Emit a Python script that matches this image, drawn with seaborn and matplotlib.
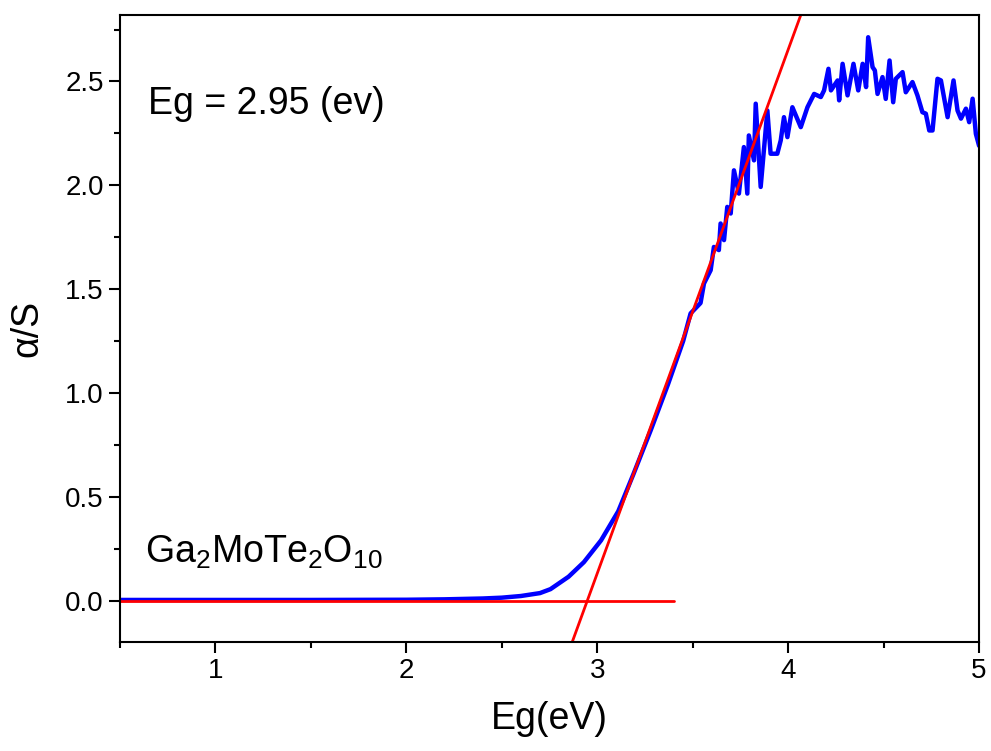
import matplotlib
matplotlib.use("Agg")
import matplotlib.pyplot as plt
from matplotlib.ticker import MultipleLocator
import pandas as pd
import seaborn as sns

# absorption curve
eg = [0.5, 1.0, 1.5, 2.0, 2.2, 2.4, 2.5, 2.6, 2.7, 2.755, 2.85, 2.93, 3.02, 3.11, 3.19, 3.28, 3.37, 3.45,
      3.489, 3.541, 3.559, 3.594, 3.611, 3.637, 3.646, 3.664, 3.681, 3.699, 3.716, 3.742, 3.768, 3.786,
      3.794, 3.821, 3.83, 3.856, 3.891, 3.908, 3.943, 3.961, 3.978, 3.996, 4.022, 4.066, 4.101, 4.136,
      4.171, 4.188, 4.211, 4.224, 4.259, 4.267, 4.285, 4.311, 4.342, 4.367, 4.39, 4.408, 4.419, 4.442,
      4.454, 4.468, 4.494, 4.511, 4.531, 4.55, 4.564, 4.599, 4.616, 4.651, 4.677, 4.703, 4.721, 4.739,
      4.756, 4.782, 4.8, 4.835, 4.866, 4.887, 4.905, 4.931, 4.948, 4.966, 4.983, 5.0]
alpha_s = [0.003, 0.003, 0.003, 0.004, 0.006, 0.01, 0.014, 0.022, 0.036, 0.055, 0.115, 0.185, 0.29, 0.43,
           0.61, 0.82, 1.04, 1.25,
           1.383, 1.433, 1.527, 1.591, 1.703, 1.688, 1.816, 1.736, 1.896, 1.864, 2.072, 1.96, 2.184, 1.96,
           2.24, 2.12, 2.393, 1.992, 2.36, 2.152, 2.152, 2.216, 2.328, 2.232, 2.376, 2.28, 2.376, 2.44,
           2.425, 2.457, 2.561, 2.457, 2.505, 2.409, 2.585, 2.433, 2.585, 2.457, 2.585, 2.473, 2.713, 2.569,
           2.553, 2.44, 2.521, 2.416, 2.601, 2.4, 2.513, 2.545, 2.448, 2.497, 2.433, 2.352, 2.345, 2.264,
           2.264, 2.513, 2.505, 2.328, 2.505, 2.36, 2.321, 2.369, 2.304, 2.417, 2.248, 2.19]

# tangent and baseline
tan_x = [2.87, 4.07]
tan_y = [-0.197, 2.83]
base_x = [0.46, 3.4]
base_y = [0.0, 0.0]

sns.set_style("ticks")
plt.rcParams['font.family'] = ['Liberation Sans', 'DejaVu Sans']
plt.rcParams['mathtext.fontset'] = 'custom'
plt.rcParams['mathtext.rm'] = 'Liberation Sans'
plt.rcParams['mathtext.it'] = 'Liberation Sans:italic'
plt.rcParams['text.color'] = 'black'
plt.rcParams['axes.labelcolor'] = 'black'
plt.rcParams['xtick.color'] = 'black'
plt.rcParams['ytick.color'] = 'black'

fig = plt.figure(figsize=(9.91, 7.51), dpi=100)
ax = fig.add_axes([0.121, 0.145, 0.867, 0.835])

df = pd.DataFrame({"eg": eg, "a": alpha_s})
sns.lineplot(data=df, x="eg", y="a", color="#0000ff", lw=3.2, estimator=None, sort=False, ax=ax)
sns.lineplot(x=base_x, y=base_y, color="#ff0000", lw=2, estimator=None, ax=ax)
sns.lineplot(x=tan_x, y=tan_y, color="#ff0000", lw=2, estimator=None, ax=ax)

ax.set_xlim(0.5, 5)
ax.set_ylim(-0.2, 2.82)
ax.xaxis.set_major_locator(MultipleLocator(1))
ax.xaxis.set_minor_locator(MultipleLocator(0.5))
ax.yaxis.set_major_locator(MultipleLocator(0.5))
ax.yaxis.set_minor_locator(MultipleLocator(0.25))
ax.yaxis.set_major_formatter(matplotlib.ticker.FormatStrFormatter('%.1f'))
ax.tick_params(which='major', length=8, width=1.5, labelsize=20, direction='out')
ax.tick_params(which='minor', length=4, width=1.5, direction='out')
for s in ax.spines.values():
    s.set_linewidth(1.5)
    s.set_color('black')

ax.set_xlabel("Eg(eV)", fontsize=27, labelpad=12)
ax.set_ylabel("α/S", fontsize=27, labelpad=14)

ax.text(0.647, 2.39, "Eg = 2.95 (ev)", fontsize=27, va='center')
ax.text(0.63, 0.23, r"Ga$_2$MoTe$_2$O$_{10}$", fontsize=27, va='center')

fig.savefig("out.png", dpi=100)
